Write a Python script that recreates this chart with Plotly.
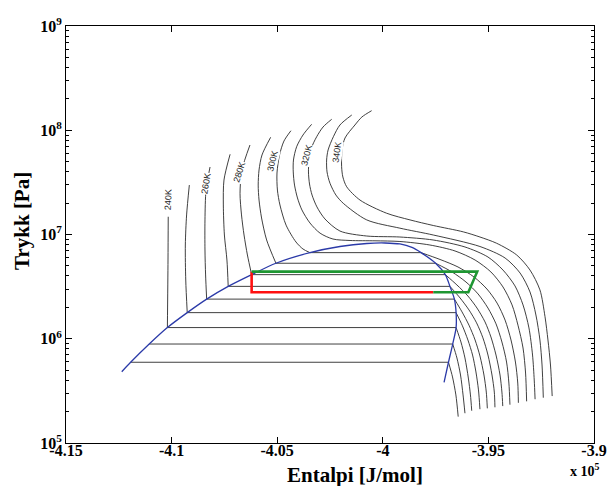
import math
import plotly.graph_objects as go

# ---------------- data (enthalpy in 1e5 J/mol, pressure in MPa) ----------------
temps = [220, 230, 240, 250, 260, 270, 280, 290, 300, 310, 320, 330, 340]
label_temps = [240, 260, 280, 300, 320, 340]
label_h = [-4.1016, -4.0837, -4.0681, -4.0522, -4.0360, -4.0215]
label_p = [21.4, 30.5, 40.2, 50.7, 57.9, 61.2]
label_angle = [-88, -80, -72, -76, -76, -82]

h_220 = [-4.1194, -3.9689, -3.9670, -3.9654, -3.9643]
p_220 = [0.595, 0.595, 0.430, 0.289, 0.179]

h_230 = [-4.1106, -3.9669, -3.9649, -3.9632, -3.9620, -3.9611]
p_230 = [0.89, 0.89, 0.654, 0.449, 0.289, 0.193]

h_240 = [-4.1016, -4.1017, -4.1020, -3.9653, -3.9630, -3.9611, -3.9595, -3.9585, -3.9579]
p_240 = [14.8, 5.69, 1.28, 1.28, 0.931, 0.654, 0.420, 0.289, 0.204]

h_250 = [-4.0916, -4.0929, -4.0935, -4.0933, -4.0926, -3.9653, -3.9623, -3.9597, -3.9575, -3.9559, -3.9547, -3.9540]
p_250 = [29.8, 15.4, 7.93, 3.66, 1.78, 1.78, 1.33, 0.973, 0.698, 0.480, 0.323, 0.211]

h_260 = [-4.0818, -4.0837, -4.0842, -4.0842, -4.0839, -4.0834, -3.9661, -3.9625, -3.9592, -3.9563, -3.9540, -3.9521, -3.9510, -3.9505]
p_260 = [44.4, 26.7, 13.8, 7.10, 4.09, 2.40, 2.40, 1.81, 1.35, 0.973, 0.683, 0.449, 0.308, 0.215]

h_270 = [-4.0723, -4.0752, -4.0755, -4.0750, -4.0738, -4.0732, -3.9682, -3.9634, -3.9592, -3.9556, -3.9526, -3.9502, -3.9483, -3.9472, -3.9469]
p_270 = [58.8, 33.3, 19.2, 9.89, 5.69, 3.18, 3.18, 2.46, 1.89, 1.42, 1.02, 0.698, 0.449, 0.308, 0.220]

h_280 = [-4.0629, -4.0667, -4.0676, -4.0669, -4.0657, -4.0641, -4.0621, -3.9704, -3.9649, -3.9597, -3.9554, -3.9516, -3.9488, -3.9464, -3.9445, -3.9436, -3.9432]
p_280 = [72.2, 41.6, 24.8, 15.4, 9.89, 6.36, 4.12, 4.12, 3.28, 2.57, 1.97, 1.45, 1.04, 0.698, 0.449, 0.308, 0.226]

h_290 = [-4.0531, -4.0572, -4.0586, -4.0590, -4.0586, -4.0574, -4.0550, -4.0506, -3.9750, -3.9672, -3.9606, -3.9549, -3.9502, -3.9464, -3.9436, -3.9414, -3.9403, -3.9398]
p_290 = [85.6, 57.9, 41.6, 29.8, 21.4, 14.4, 8.86, 5.30, 5.30, 4.37, 3.50, 2.69, 1.97, 1.39, 0.931, 0.598, 0.376, 0.233]

h_300 = [-4.0435, -4.0468, -4.0489, -4.0501, -4.0499, -4.0487, -4.0458, -4.0411, -4.0378, -4.0345, -3.9819, -3.9729, -3.9644, -3.9568, -3.9507, -3.9459, -3.9421, -3.9393, -3.9372, -3.9361, -3.9358]
p_300 = [99.0, 78.8, 57.9, 38.9, 26.7, 19.2, 12.3, 8.47, 7.26, 6.70, 6.70, 5.76, 4.88, 3.91, 3.00, 2.20, 1.51, 0.973, 0.598, 0.376, 0.243]

h_310 = [-4.0337, -4.0378, -4.0408, -4.0423, -4.0424, -4.0418, -4.0404, -4.0383, -4.0345, -4.0297, -4.0236, -4.0155, -4.0037, -3.9919, -3.9777, -3.9658, -3.9563, -3.9488, -3.9431, -3.9388, -3.9360, -3.9336, -3.9324, -3.9319]
p_310 = [114.0, 90.0, 69.5, 51.8, 39.8, 29.8, 22.4, 17.2, 12.9, 10.3, 9.05, 8.76, 8.70, 8.57, 7.93, 6.95, 5.69, 4.37, 3.14, 2.11, 1.35, 0.815, 0.469, 0.251]

h_320 = [-4.0242, -4.0283, -4.0313, -4.0338, -4.0349, -4.0352, -4.0347, -4.0335, -4.0312, -4.0274, -4.0203, -4.0076, -3.9919, -3.9762, -3.9611, -3.9502, -3.9431, -3.9374, -3.9336, -3.9308, -3.9291, -3.9283, -3.9279]
p_320 = [127.4, 107.4, 86.7, 67.6, 51.8, 39.8, 30.5, 23.9, 18.4, 14.1, 10.8, 9.67, 9.46, 8.86, 7.59, 6.08, 4.56, 3.21, 2.11, 1.27, 0.698, 0.402, 0.263]

h_330 = [-4.0147, -4.0203, -4.0234, -4.0259, -4.0266, -4.0264, -4.0250, -4.0222, -4.0187, -4.0076, -3.9919, -3.9761, -3.9540, -3.9421, -3.9350, -3.9303, -3.9275, -3.9256, -3.9246, -3.9240]
p_330 = [140.0, 112.3, 86.7, 64.7, 51.8, 39.8, 31.0, 23.9, 19.9, 13.8, 11.5, 9.89, 7.67, 5.95, 4.27, 2.81, 1.69, 0.973, 0.560, 0.272]

h_340 = [-4.0053, -4.0099, -4.0132, -4.0179, -4.0193, -4.0195, -4.0189, -4.0171, -4.0108, -3.9982, -3.9871, -3.9761, -3.9619, -3.9540, -3.9461, -3.9366, -3.9303, -3.9256, -3.9232, -3.9218, -3.9206, -3.9198]
p_340 = [154.0, 134.0, 112.3, 84.3, 64.7, 44.7, 35.6, 28.7, 21.4, 16.0, 13.8, 12.2, 10.6, 9.46, 8.24, 6.36, 4.56, 2.94, 1.63, 0.973, 0.560, 0.282]

dome_h = [-4.1236, -4.1194, -4.1106, -4.1020, -4.0926, -4.0834, -4.0732, -4.0621, -4.0506, -4.0345,
          -4.0203, -4.0076, -3.9990, -3.9919, -3.9862, -3.9819, -3.9750, -3.9704, -3.9682, -3.9661,
          -3.9653, -3.9653, -3.9669, -3.9689, -3.9710]
dome_p = [0.483, 0.595, 0.89, 1.28, 1.78, 2.40, 3.18, 4.12, 5.30, 6.70,
          7.67, 8.20, 8.29, 8.11, 7.51, 6.70, 5.30, 4.12, 3.18, 2.40,
          1.78, 1.28, 0.89, 0.595, 0.382]

red_h = [-4.0621, -4.0621, -3.9761]
red_p = [4.40, 2.79, 2.79]
green_h = [-3.9761, -3.9595, -3.9553, -4.0621]
green_p = [2.79, 2.79, 4.40, 4.40]

x_ticks = [-4.15, -4.1, -4.05, -4.0, -3.95, -3.9]
x_ticklabels = ["-4.15", "-4.1", "-4.05", "-4", "-3.95", "-3.9"]
y_ticks = [1e5, 1e6, 1e7, 1e8, 1e9]
y_ticklabels = ["10<sup>5</sup>", "10<sup>6</sup>", "10<sup>7</sup>", "10<sup>8</sup>", "10<sup>9</sup>"]

iso_h = [h_220, h_230, h_240, h_250, h_260, h_270, h_280, h_290, h_300, h_310, h_320, h_330, h_340]
iso_p = [p_220, p_230, p_240, p_250, p_260, p_270, p_280, p_290, p_300, p_310, p_320, p_330, p_340]

MPA = 1e6
ISO_COLOR = "#2a2a2a"
SERIF = "Liberation Serif, Times New Roman, serif"

FIG_W, FIG_H = 610, 486
L, R, T_, B = 66, 594, 26, 443          # plot area in pixels
W, H = R - L, B - T_

fig = go.Figure()


def add_line(xs, ys, color, width, shape):
    fig.add_trace(go.Scatter(
        x=xs, y=[v * MPA for v in ys], mode="lines",
        line=dict(color=color, width=width, shape=shape, smoothing=0.8),
        hoverinfo="skip", showlegend=False))


for hs, ps in zip(iso_h, iso_p):
    n = len(hs)
    start = 0
    for i in range(n - 1):
        if ps[i] == ps[i + 1]:
            if i > start:
                add_line(hs[start:i + 1], ps[start:i + 1], ISO_COLOR, 0.9, "spline")
            add_line(hs[i:i + 2], ps[i:i + 2], ISO_COLOR, 0.9, "linear")
            start = i + 1
    if start < n - 1:
        add_line(hs[start:], ps[start:], ISO_COLOR, 0.9, "spline")

add_line(dome_h, dome_p, "#2b3aa8", 1.3, "spline")
add_line(red_h, red_p, "#ff1010", 2.6, "linear")
add_line(green_h, green_p, "#1e9632", 2.6, "linear")

annotations = []
for T, hx, py, ang in zip(label_temps, label_h, label_p, label_angle):
    annotations.append(dict(
        x=hx, y=math.log10(py * MPA), xref="x", yref="y", yanchor="middle", xanchor="center",
        text=f"{T}K", showarrow=False, textangle=ang,
        font=dict(family="Liberation Sans, Arial, sans-serif", size=9, color="#222"),
        bgcolor="white", borderpad=0))


def px_x(px):
    return (px - L) / W


def px_y(py):
    return (B - py) / H


annotations.append(dict(
    x=px_x(22), y=px_y(221), xref="paper", yref="paper", xanchor="center", yanchor="middle",
    text="Trykk [Pa]", showarrow=False, textangle=-90,
    font=dict(family=SERIF, size=21, color="black", weight="bold")))
annotations.append(dict(
    x=px_x(355), y=px_y(475), xref="paper", yref="paper", xanchor="center", yanchor="middle",
    text="Entalpi [J/mol]", showarrow=False,
    font=dict(family=SERIF, size=21, color="black", weight="bold")))
annotations.append(dict(
    x=px_x(585), y=px_y(470), xref="paper", yref="paper", xanchor="center", yanchor="middle",
    text="x 10<sup>5</sup>", showarrow=False,
    font=dict(family=SERIF, size=14, color="black", weight="bold")))

minor_vals = [k * 10 ** e for e in range(5, 9) for k in range(2, 10)]

fig.update_layout(
    width=FIG_W, height=FIG_H,
    margin=dict(l=L, r=FIG_W - R, t=T_, b=FIG_H - B, autoexpand=False),
    paper_bgcolor="white", plot_bgcolor="white",
    showlegend=False,
    annotations=annotations,
    xaxis=dict(
        range=[-4.15, -3.9], tickmode="array", tickvals=x_ticks, ticktext=x_ticklabels,
        ticks="inside", ticklen=6, tickcolor="black", mirror="ticks", automargin=False,
        ticklabelstandoff=-7,
        showline=True, linecolor="black", linewidth=1, showgrid=False, zeroline=False,
        tickfont=dict(family=SERIF, size=16, color="black", weight="bold")),
    yaxis=dict(
        type="log", range=[5, 9], tickmode="array", tickvals=y_ticks, ticktext=y_ticklabels,
        ticks="inside", ticklen=6, tickcolor="black", mirror="ticks", automargin=False,
        showline=True, linecolor="black", linewidth=1, showgrid=False, zeroline=False,
        minor=dict(tickmode="array", tickvals=minor_vals, ticks="inside", ticklen=3,
                   tickcolor="black", showgrid=False),
        tickfont=dict(family=SERIF, size=16, color="black", weight="bold")),
)

fig.write_html("out.html",
               config={"displayModeBar": False},
               post_script="document.body.style.margin='0';document.body.style.overflow='hidden';")
